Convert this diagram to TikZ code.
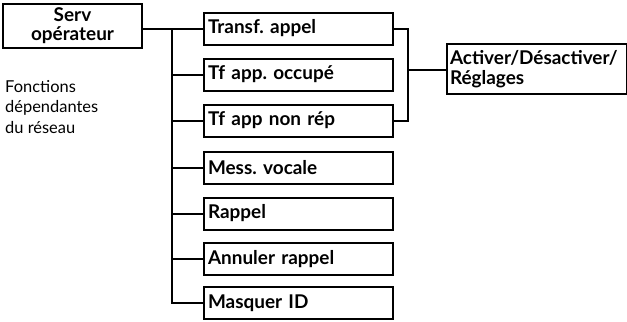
\documentclass[tikz,border=0pt]{standalone}
\usepackage{fontspec}
\setmainfont{Lato}
\usetikzlibrary{positioning,calc}

\tikzset{
  menubox/.style={draw, line width=2bp, anchor=west, minimum height=32bp,
    text width=181bp, inner xsep=4bp, align=left, font=\bfseries\fontsize{19}{20}\selectfont},
  link/.style={line width=2bp}
}

\begin{document}
\frenchspacing
\begin{tikzpicture}[x=1bp, y=-1bp]
    \useasboundingbox (0,0) rectangle (627,321);
    % head of the menu
    \node[draw, line width=2bp, minimum width=138bp, minimum height=44bp, inner sep=1bp,
      align=center, font=\bfseries\fontsize{19}{19}\selectfont] (serv) at (72.5,25.5) {Serv\\opérateur};
    \node[anchor=north west, align=left, inner sep=0pt, font=\fontsize{16.5}{20.5}\selectfont]
      (note) at (5,80) {Fonctions\\dépendantes\\du réseau};
    % the seven sub menus
    \node[menubox] (transf) at (203,28.5) {Transf. appel};
    \node[menubox] (occupe) at (203,74.5) {Tf app. occupé};
    \node[menubox] (nonrep) at (203,120.5) {Tf app non rép};
    \node[menubox] (vocale) at (203,168) {Mess. vocale};
    \node[menubox] (rappel) at (203,213.5) {Rappel};
    \node[menubox] (annul) at (203,259) {Annuler rappel};
    \node[menubox] (masq) at (203,303) {Masquer ID};
    % settings reached from the three transfer menus
    \node[draw, line width=2bp, anchor=north west, minimum width=180bp, minimum height=50bp,
      text width=174bp, inner xsep=3bp, align=left, font=\bfseries\fontsize{19}{20}\selectfont]
      (activ) at (446,43) {Activer/Désactiver/\\Réglages};
    % trunk
    \coordinate (trunk) at (172,28.5);
    \draw[link] (serv.east |- transf.west) -- (transf.west);
    \draw[link] (trunk) -- (trunk |- masq.west) -- (masq.west);
    \foreach \b in {occupe,nonrep,vocale,rappel,annul}
      \draw[link] (trunk |- \b.west) -- (\b.west);
    % bracket on the right
    \coordinate (brk) at (408,70);
    \draw[link] (transf.east) -| (brk) |- (nonrep.east);
    \draw[link] (brk) -- (brk -| activ.west);
\end{tikzpicture}
\end{document}
